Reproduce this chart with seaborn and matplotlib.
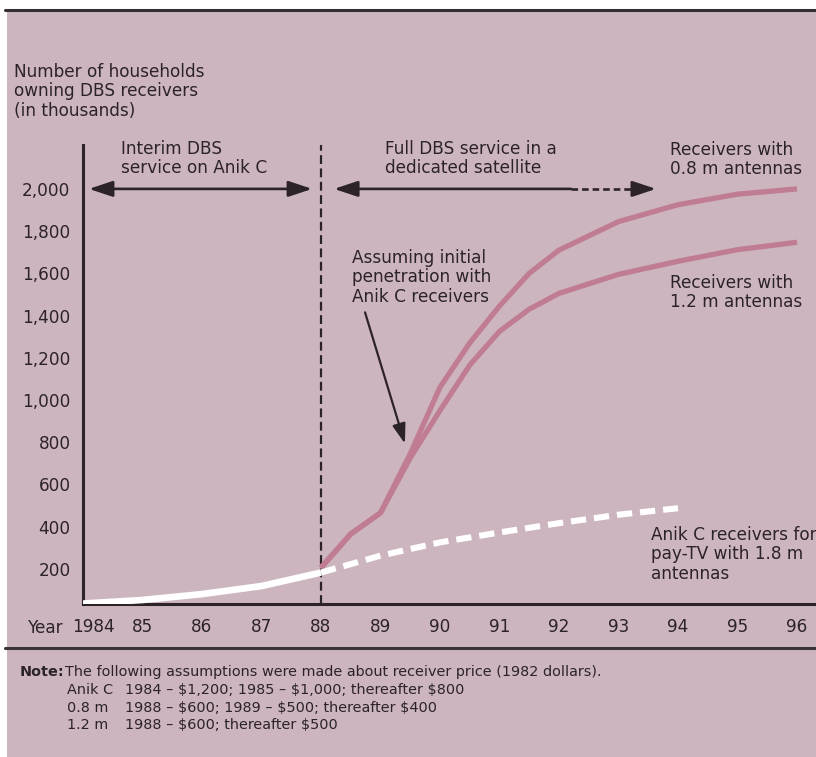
import matplotlib
matplotlib.use("Agg")
import matplotlib.pyplot as plt
import matplotlib.transforms as mtransforms
import seaborn as sns
import pandas as pd
from matplotlib.patches import Rectangle
from matplotlib.lines import Line2D

# ---------------- data ----------------
anik_years_solid = [1984, 1985, 1986, 1987, 1988]
anik_vals_solid = [35, 52, 80, 118, 182]
anik_years_dash = [1988, 1989, 1990, 1991, 1992, 1993, 1994]
anik_vals_dash = [182, 262, 325, 372, 416, 456, 487]

dbs_years = [1988, 1988.5, 1989, 1989.5, 1990, 1990.5, 1991, 1991.5, 1992, 1993, 1994, 1995, 1996]
dbs08_vals = [205, 365, 465, 745, 1060, 1270, 1445, 1600, 1710, 1845, 1925, 1975, 2000]
dbs12_vals = [205, 365, 465, 725, 950, 1165, 1325, 1430, 1505, 1595, 1657, 1712, 1747]

x_ticks = [1984, 1985, 1986, 1987, 1988, 1989, 1990, 1991, 1992, 1993, 1994, 1995, 1996]
x_tick_labels = ["1984", "85", "86", "87", "88", "89", "90", "91", "92", "93", "94", "95", "96"]
y_ticks = [200, 400, 600, 800, 1000, 1200, 1400, 1600, 1800, 2000]
y_tick_labels = ["200", "400", "600", "800", "1,000", "1,200", "1,400", "1,600", "1,800", "2,000"]

note_rows = [
    ("Anik C", "1984 \u2013 \\$1,200; 1985 \u2013 \\$1,000; thereafter \\$800"),
    ("0.8 m", "1988 \u2013 \\$600; 1989 \u2013 \\$500; thereafter \\$400"),
    ("1.2 m", "1988 \u2013 \\$600; thereafter \\$500"),
]

# ---------------- style ----------------
BG = "#cdb5bf"
PINK = "#c07c92"
INK = "#2b2328"
W, H = 816, 757

sns.set_theme(style="white")
plt.rcParams["font.family"] = ["DejaVu Sans"]
FS = 12.2

fig = plt.figure(figsize=(W / 100, H / 100), dpi=100)
fig.patch.set_facecolor("white")
bg = Rectangle((7 / W, 0), 1, 1 - 9 / H, transform=fig.transFigure,
               facecolor=BG, edgecolor="none", zorder=-10)
fig.patches.append(bg)

def fx(px):
    return px / W

def fy(py):
    return 1 - py / H

# rules
fig.add_artist(Line2D([fx(5), 1], [fy(10), fy(10)], color="#333033", lw=2.2, zorder=-5))
fig.add_artist(Line2D([fx(5), 1], [fy(648), fy(648)], color="#3a3438", lw=2.2, zorder=-5))

ax = fig.add_axes([fx(83), fy(604), 1 - fx(83), fy(145) - fy(604)])
ax.set_facecolor("none")
ax.set_zorder(5)

df_anik_s = pd.DataFrame({"year": anik_years_solid, "v": anik_vals_solid})
df_anik_d = pd.DataFrame({"year": anik_years_dash, "v": anik_vals_dash})
df08 = pd.DataFrame({"year": dbs_years, "v": dbs08_vals})
df12 = pd.DataFrame({"year": dbs_years, "v": dbs12_vals})

sns.lineplot(data=df08, x="year", y="v", ax=ax, color=PINK, lw=3.8, estimator=None,
             sort=False, solid_joinstyle="round", solid_capstyle="butt", zorder=3)
sns.lineplot(data=df12, x="year", y="v", ax=ax, color=PINK, lw=3.8, estimator=None,
             sort=False, solid_joinstyle="round", solid_capstyle="butt", zorder=3)
sns.lineplot(data=df_anik_s, x="year", y="v", ax=ax, color="white", lw=4.8, estimator=None,
             sort=False, solid_joinstyle="round", solid_capstyle="butt", zorder=4)
sns.lineplot(data=df_anik_d, x="year", y="v", ax=ax, color="white", lw=4.4, estimator=None,
             sort=False, zorder=4)
ax.lines[-1].set_dashes((2.5, 1.3))
ax.lines[-1].set_dash_capstyle("butt")

ax.set_xlim(1984, 1984 + (816 - 83) / 59.5)
ax.set_ylim(33, 2208)
ax.set_xlabel("")
ax.set_ylabel("")
ax.set_xticks(x_ticks)
ax.set_xticklabels(x_tick_labels)
ax.set_yticks(y_ticks)
ax.set_yticklabels(y_tick_labels)
for s in ["top", "right"]:
    ax.spines[s].set_visible(False)
for s in ["left", "bottom"]:
    ax.spines[s].set_color(INK)
    ax.spines[s].set_linewidth(2.2)
ax.tick_params(axis="both", direction="out", length=7, width=2.2, color=INK,
               labelsize=FS, labelcolor=INK, pad=3)
ax.tick_params(axis="y", pad=2)
ax.grid(False)
# "1984" label sits to the right of its tick, next to "Year"
lab0 = ax.get_xticklabels()[0]
lab0.set_ha("left")
lab0.set_transform(lab0.get_transform() +
                   mtransforms.ScaledTranslation(-11 / 100, 0, fig.dpi_scale_trans))

# vertical dashed divider at 1988
ax.axvline(1988, color=INK, lw=1.6, dashes=(4, 2), zorder=2)

# period arrows
HEAD = "head_length=0.72,head_width=0.24"
ax.annotate("", xy=(1987.85, 2000), xytext=(1984.1, 2000),
            arrowprops=dict(arrowstyle="<|-|>," + HEAD, color=INK, lw=1.9,
                            shrinkA=0, shrinkB=0, mutation_scale=20))
ax.annotate("", xy=(1988.22, 2000), xytext=(1992.2, 2000),
            arrowprops=dict(arrowstyle="-|>," + HEAD, color=INK,
                            lw=1.9, shrinkA=0, shrinkB=0, mutation_scale=20))
ax.plot([1992.2, 1993.4], [2000, 2000], color=INK, lw=1.9, dashes=(2.5, 1.5))
ax.annotate("", xy=(1993.63, 2000), xytext=(1993.35, 2000),
            arrowprops=dict(arrowstyle="-|>," + HEAD, color=INK,
                            lw=1.9, shrinkA=0, shrinkB=0, mutation_scale=20))

# pointer arrow
ax.annotate("", xy=(1989.41, 793), xytext=(1988.74, 1415),
            arrowprops=dict(arrowstyle="-|>,head_length=0.6,head_width=0.2", color=INK,
                            lw=1.6, shrinkA=0, shrinkB=0, mutation_scale=20))

# texts
def t(px, py, s, **kw):
    kw.setdefault("fontsize", FS)
    kw.setdefault("color", INK)
    kw.setdefault("va", "top")
    kw.setdefault("ha", "left")
    kw.setdefault("linespacing", 1.1)
    fig.text(fx(px), fy(py), s, **kw)

t(14, 63, "Number of households\nowning DBS receivers\n(in thousands)")
t(121, 140, "Interim DBS\nservice on Anik C")
t(385, 140, "Full DBS service in a\ndedicated satellite")
t(670, 141, "Receivers with\n0.8 m antennas")
t(352, 249, "Assuming initial\npenetration with\nAnik C receivers")
t(670, 274, "Receivers with\n1.2 m antennas")
t(651, 526, "Anik C receivers for\npay-TV with 1.8 m\nantennas")
t(64, 628, "Year", ha="right", va="center")

NFS = 10.4
t(20, 672, "Note:", fontsize=NFS, fontweight="bold", va="center")
t(65, 672, "The following assumptions were made about receiver price (1982 dollars).",
  fontsize=NFS, va="center")
for i, (k, v) in enumerate(note_rows):
    yy = 690 + i * 17.5
    t(67, yy, k, fontsize=NFS, va="center")
    t(125, yy, v, fontsize=NFS, va="center")

fig.savefig("out.png", dpi=100, facecolor=fig.get_facecolor())
